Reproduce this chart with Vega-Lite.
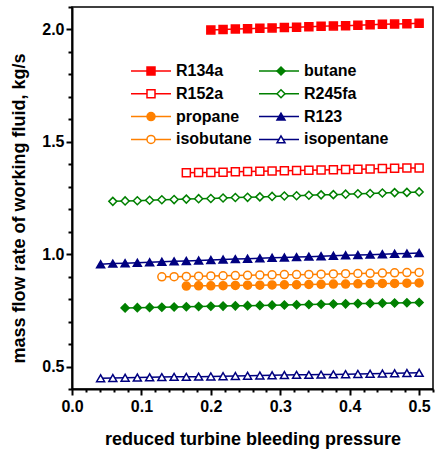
{
  "$schema": "https://vega.github.io/schema/vega-lite/v6.json",
  "width": 361,
  "height": 382,
  "autosize": {"type": "none"},
  "padding": {"left": 72, "top": 7, "right": 2, "bottom": 65},
  "background": "white",
  "config": {
    "font": "Liberation Sans",
    "view": {"stroke": "black", "strokeWidth": 1.5},
    "axis": {
      "domainColor": "black", "domainWidth": 2, "tickColor": "black", "tickWidth": 2,
      "labelFont": "Liberation Sans", "labelFontSize": 16, "labelFontWeight": "bold", "labelColor": "black",
      "titleFont": "Liberation Sans", "titleFontSize": 18, "titleFontWeight": "bold", "titleColor": "black",
      "grid": false, "labelOverlap": false, "labelFlush": false, "labelBound": false
    },
    "legend": {
      "title": null, "orient": "none", "legendX": 58, "legendY": 56, "direction": "vertical", "columns": 2,
      "symbolStrokeWidth": 1.5, "rowPadding": 6.8, "padding": 0,
      "labelFont": "Liberation Sans", "labelFontSize": 16, "labelFontWeight": "bold", "labelColor": "black"
    }
  },
  "resolve": {"axis": {"x": "independent", "y": "independent"}},
  "data": {"values": [
    {"series":"R134a","p":0.2,"m":1.998},{"series":"R134a","p":0.2176,"m":2.000},{"series":"R134a","p":0.2353,"m":2.002},{"series":"R134a","p":0.2529,"m":2.003},{"series":"R134a","p":0.2706,"m":2.005},{"series":"R134a","p":0.2882,"m":2.007},{"series":"R134a","p":0.3059,"m":2.009},{"series":"R134a","p":0.3235,"m":2.010},{"series":"R134a","p":0.3412,"m":2.012},{"series":"R134a","p":0.3588,"m":2.014},{"series":"R134a","p":0.3765,"m":2.016},{"series":"R134a","p":0.3941,"m":2.017},{"series":"R134a","p":0.4118,"m":2.019},{"series":"R134a","p":0.4294,"m":2.021},{"series":"R134a","p":0.4471,"m":2.023},{"series":"R134a","p":0.4647,"m":2.024},{"series":"R134a","p":0.4824,"m":2.026},{"series":"R134a","p":0.5,"m":2.028},
    {"series":"R152a","p":0.1647,"m":1.362},{"series":"R152a","p":0.1824,"m":1.363},{"series":"R152a","p":0.2,"m":1.364},{"series":"R152a","p":0.2176,"m":1.365},{"series":"R152a","p":0.2353,"m":1.367},{"series":"R152a","p":0.2529,"m":1.368},{"series":"R152a","p":0.2706,"m":1.369},{"series":"R152a","p":0.2882,"m":1.370},{"series":"R152a","p":0.3059,"m":1.371},{"series":"R152a","p":0.3235,"m":1.372},{"series":"R152a","p":0.3412,"m":1.374},{"series":"R152a","p":0.3588,"m":1.375},{"series":"R152a","p":0.3765,"m":1.376},{"series":"R152a","p":0.3941,"m":1.377},{"series":"R152a","p":0.4118,"m":1.378},{"series":"R152a","p":0.4294,"m":1.379},{"series":"R152a","p":0.4471,"m":1.381},{"series":"R152a","p":0.4647,"m":1.382},{"series":"R152a","p":0.4824,"m":1.383},{"series":"R152a","p":0.5,"m":1.384},
    {"series":"R245fa","p":0.0588,"m":1.235},{"series":"R245fa","p":0.0765,"m":1.237},{"series":"R245fa","p":0.0941,"m":1.238},{"series":"R245fa","p":0.1118,"m":1.240},{"series":"R245fa","p":0.1294,"m":1.242},{"series":"R245fa","p":0.1471,"m":1.243},{"series":"R245fa","p":0.1647,"m":1.245},{"series":"R245fa","p":0.1824,"m":1.247},{"series":"R245fa","p":0.2,"m":1.248},{"series":"R245fa","p":0.2176,"m":1.250},{"series":"R245fa","p":0.2353,"m":1.252},{"series":"R245fa","p":0.2529,"m":1.253},{"series":"R245fa","p":0.2706,"m":1.255},{"series":"R245fa","p":0.2882,"m":1.257},{"series":"R245fa","p":0.3059,"m":1.259},{"series":"R245fa","p":0.3235,"m":1.260},{"series":"R245fa","p":0.3412,"m":1.262},{"series":"R245fa","p":0.3588,"m":1.264},{"series":"R245fa","p":0.3765,"m":1.265},{"series":"R245fa","p":0.3941,"m":1.267},{"series":"R245fa","p":0.4118,"m":1.269},{"series":"R245fa","p":0.4294,"m":1.270},{"series":"R245fa","p":0.4471,"m":1.272},{"series":"R245fa","p":0.4647,"m":1.274},{"series":"R245fa","p":0.4824,"m":1.275},{"series":"R245fa","p":0.5,"m":1.277},
    {"series":"R123","p":0.0412,"m":0.955},{"series":"R123","p":0.0588,"m":0.958},{"series":"R123","p":0.0765,"m":0.960},{"series":"R123","p":0.0941,"m":0.962},{"series":"R123","p":0.1118,"m":0.964},{"series":"R123","p":0.1294,"m":0.966},{"series":"R123","p":0.1471,"m":0.968},{"series":"R123","p":0.1647,"m":0.970},{"series":"R123","p":0.1824,"m":0.972},{"series":"R123","p":0.2,"m":0.974},{"series":"R123","p":0.2176,"m":0.976},{"series":"R123","p":0.2353,"m":0.978},{"series":"R123","p":0.2529,"m":0.980},{"series":"R123","p":0.2706,"m":0.982},{"series":"R123","p":0.2882,"m":0.984},{"series":"R123","p":0.3059,"m":0.985},{"series":"R123","p":0.3235,"m":0.987},{"series":"R123","p":0.3412,"m":0.989},{"series":"R123","p":0.3588,"m":0.991},{"series":"R123","p":0.3765,"m":0.993},{"series":"R123","p":0.3941,"m":0.995},{"series":"R123","p":0.4118,"m":0.996},{"series":"R123","p":0.4294,"m":0.998},{"series":"R123","p":0.4471,"m":1.000},{"series":"R123","p":0.4647,"m":1.002},{"series":"R123","p":0.4824,"m":1.003},{"series":"R123","p":0.5,"m":1.005},
    {"series":"isobutane","p":0.1294,"m":0.899},{"series":"isobutane","p":0.1471,"m":0.900},{"series":"isobutane","p":0.1647,"m":0.901},{"series":"isobutane","p":0.1824,"m":0.902},{"series":"isobutane","p":0.2,"m":0.903},{"series":"isobutane","p":0.2176,"m":0.904},{"series":"isobutane","p":0.2353,"m":0.905},{"series":"isobutane","p":0.2529,"m":0.906},{"series":"isobutane","p":0.2706,"m":0.907},{"series":"isobutane","p":0.2882,"m":0.908},{"series":"isobutane","p":0.3059,"m":0.909},{"series":"isobutane","p":0.3235,"m":0.909},{"series":"isobutane","p":0.3412,"m":0.910},{"series":"isobutane","p":0.3588,"m":0.911},{"series":"isobutane","p":0.3765,"m":0.912},{"series":"isobutane","p":0.3941,"m":0.913},{"series":"isobutane","p":0.4118,"m":0.914},{"series":"isobutane","p":0.4294,"m":0.915},{"series":"isobutane","p":0.4471,"m":0.916},{"series":"isobutane","p":0.4647,"m":0.917},{"series":"isobutane","p":0.4824,"m":0.918},{"series":"isobutane","p":0.5,"m":0.919},
    {"series":"propane","p":0.1647,"m":0.858},{"series":"propane","p":0.1824,"m":0.859},{"series":"propane","p":0.2,"m":0.859},{"series":"propane","p":0.2176,"m":0.860},{"series":"propane","p":0.2353,"m":0.861},{"series":"propane","p":0.2529,"m":0.862},{"series":"propane","p":0.2706,"m":0.862},{"series":"propane","p":0.2882,"m":0.863},{"series":"propane","p":0.3059,"m":0.864},{"series":"propane","p":0.3235,"m":0.864},{"series":"propane","p":0.3412,"m":0.865},{"series":"propane","p":0.3588,"m":0.866},{"series":"propane","p":0.3765,"m":0.867},{"series":"propane","p":0.3941,"m":0.867},{"series":"propane","p":0.4118,"m":0.868},{"series":"propane","p":0.4294,"m":0.869},{"series":"propane","p":0.4471,"m":0.870},{"series":"propane","p":0.4647,"m":0.870},{"series":"propane","p":0.4824,"m":0.871},{"series":"propane","p":0.5,"m":0.872},
    {"series":"butane","p":0.0765,"m":0.761},{"series":"butane","p":0.0941,"m":0.762},{"series":"butane","p":0.1118,"m":0.763},{"series":"butane","p":0.1294,"m":0.764},{"series":"butane","p":0.1471,"m":0.765},{"series":"butane","p":0.1647,"m":0.766},{"series":"butane","p":0.1824,"m":0.767},{"series":"butane","p":0.2,"m":0.768},{"series":"butane","p":0.2176,"m":0.769},{"series":"butane","p":0.2353,"m":0.770},{"series":"butane","p":0.2529,"m":0.771},{"series":"butane","p":0.2706,"m":0.772},{"series":"butane","p":0.2882,"m":0.773},{"series":"butane","p":0.3059,"m":0.774},{"series":"butane","p":0.3235,"m":0.775},{"series":"butane","p":0.3412,"m":0.776},{"series":"butane","p":0.3588,"m":0.777},{"series":"butane","p":0.3765,"m":0.778},{"series":"butane","p":0.3941,"m":0.779},{"series":"butane","p":0.4118,"m":0.780},{"series":"butane","p":0.4294,"m":0.781},{"series":"butane","p":0.4471,"m":0.782},{"series":"butane","p":0.4647,"m":0.783},{"series":"butane","p":0.4824,"m":0.784},{"series":"butane","p":0.5,"m":0.785},
    {"series":"isopentane","p":0.0412,"m":0.448},{"series":"isopentane","p":0.0588,"m":0.449},{"series":"isopentane","p":0.0765,"m":0.450},{"series":"isopentane","p":0.0941,"m":0.451},{"series":"isopentane","p":0.1118,"m":0.452},{"series":"isopentane","p":0.1294,"m":0.453},{"series":"isopentane","p":0.1471,"m":0.454},{"series":"isopentane","p":0.1647,"m":0.454},{"series":"isopentane","p":0.1824,"m":0.455},{"series":"isopentane","p":0.2,"m":0.456},{"series":"isopentane","p":0.2176,"m":0.457},{"series":"isopentane","p":0.2353,"m":0.458},{"series":"isopentane","p":0.2529,"m":0.459},{"series":"isopentane","p":0.2706,"m":0.460},{"series":"isopentane","p":0.2882,"m":0.461},{"series":"isopentane","p":0.3059,"m":0.462},{"series":"isopentane","p":0.3235,"m":0.463},{"series":"isopentane","p":0.3412,"m":0.463},{"series":"isopentane","p":0.3588,"m":0.464},{"series":"isopentane","p":0.3765,"m":0.465},{"series":"isopentane","p":0.3941,"m":0.466},{"series":"isopentane","p":0.4118,"m":0.467},{"series":"isopentane","p":0.4294,"m":0.468},{"series":"isopentane","p":0.4471,"m":0.469},{"series":"isopentane","p":0.4647,"m":0.470},{"series":"isopentane","p":0.4824,"m":0.471},{"series":"isopentane","p":0.5,"m":0.472}
  ]},
  "layer": [
    {
      "mark": {"type": "line", "strokeWidth": 1.5},
      "encoding": {
        "x": {
          "field": "p", "type": "quantitative",
          "scale": {"domain": [0, 0.52], "nice": false, "zero": false},
          "axis": {
            "orient": "bottom",
            "title": "reduced turbine bleeding pressure",
            "values": [0, 0.1, 0.2, 0.3, 0.4, 0.5],
            "format": ".1f",
            "tickSize": 6,
            "labelPadding": 3,
            "titlePadding": 16
          }
        },
        "y": {
          "field": "m", "type": "quantitative",
          "scale": {"domain": [0.4, 2.1], "nice": false, "zero": false},
          "axis": {
            "orient": "left",
            "title": "mass flow rate of working fluid, kg/s",
            "titleY": 201,
            "values": [0.5, 1.0, 1.5, 2.0],
            "format": ".1f",
            "tickSize": 6,
            "labelPadding": 2,
            "titlePadding": 13
          }
        },
        "color": {"field": "series", "type": "nominal",
          "scale": {"domain": ["R134a","R152a","propane","isobutane","butane","R245fa","R123","isopentane","none"],
                    "range": ["#FF0000","#FF0000","#FF8000","#FF8000","#008000","#008000","#000080","#000080","#000000"]},
          "legend": {
            "values": ["R134a","R152a","propane","isobutane","butane","R245fa","R123","isopentane"],
            "symbolType": "stroke", "symbolSize": 1600, "clipHeight": 16, "labelOffset": 4, "columnPadding": 6
          }
        },
        "detail": {"field": "series"}
      }
    },
    {
      "mark": {"type": "point", "size": 64, "strokeWidth": 1.5, "opacity": 1, "filled": false},
      "encoding": {
        "x": {
          "field": "p", "type": "quantitative",
          "scale": {"domain": [0, 0.52], "nice": false, "zero": false},
          "axis": {
            "orient": "bottom", "title": null, "labels": false, "domain": false, "tickSize": 3,
            "values": [0.02,0.04,0.06,0.08,0.12,0.14,0.16,0.18,0.22,0.24,0.26,0.28,0.32,0.34,0.36,0.38,0.42,0.44,0.46,0.48,0.52]
          }
        },
        "y": {
          "field": "m", "type": "quantitative",
          "scale": {"domain": [0.4, 2.1], "nice": false, "zero": false},
          "axis": {
            "orient": "left", "title": null, "labels": false, "domain": false, "tickSize": 4,
            "values": [0.4,0.6,0.7,0.8,0.9,1.1,1.2,1.3,1.4,1.6,1.7,1.8,1.9,2.1]
          }
        },
        "stroke": {"field": "series", "type": "nominal",
          "scale": {"domain": ["R134a","R152a","propane","isobutane","butane","R245fa","R123","isopentane"],
                    "range": ["#FF0000","#FF0000","#FF8000","#FF8000","#008000","#008000","#000080","#000080"]},
          "legend": {"symbolSize": 64, "symbolOffset": 13, "labelOffset": -10, "labelOpacity": 0, "labelExpr": "' '", "columnPadding": 102}
        },
        "fill": {"field": "series", "type": "nominal",
          "scale": {"domain": ["R134a","R152a","propane","isobutane","butane","R245fa","R123","isopentane"],
                    "range": ["#FF0000","#FFFFFF","#FF8000","#FFFFFF","#008000","#FFFFFF","#000080","#FFFFFF"]},
          "legend": {"symbolSize": 64, "symbolOffset": 13, "labelOffset": -10, "labelOpacity": 0, "labelExpr": "' '", "columnPadding": 102}
        },
        "shape": {"field": "series", "type": "nominal",
          "scale": {"domain": ["R134a","R152a","propane","isobutane","butane","R245fa","R123","isopentane"],
                    "range": ["square","square","circle","circle","diamond","diamond","triangle-up","triangle-up"]},
          "legend": {"symbolSize": 64, "symbolOffset": 13, "labelOffset": -10, "labelOpacity": 0, "labelExpr": "' '", "columnPadding": 102}
        }
      }
    }
  ]
}
